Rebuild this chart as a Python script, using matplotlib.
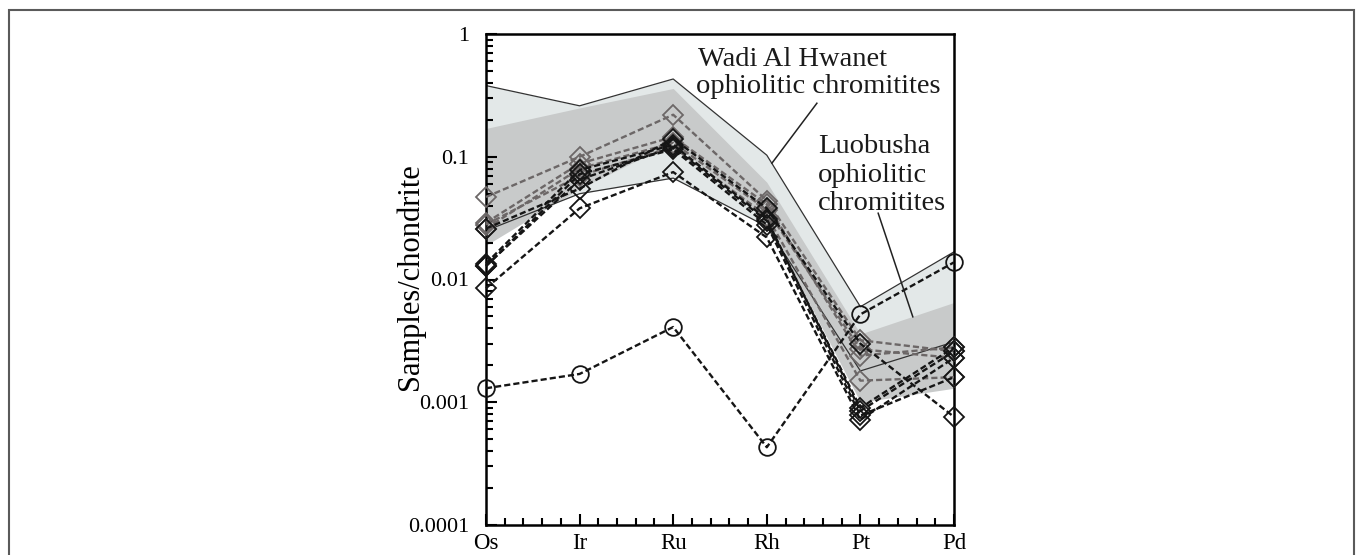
import matplotlib
matplotlib.use("Agg")
import matplotlib.pyplot as plt
from matplotlib.patches import Rectangle
from matplotlib.ticker import FixedLocator, NullFormatter, LogLocator, MultipleLocator

plt.rcParams['font.family'] = ['Liberation Serif', 'DejaVu Serif']

# PGE elements (chondrite-normalised)
elements = ["Os", "Ir", "Ru", "Rh", "Pt", "Pd"]

# Wadi Al Hwanet field (upper / lower envelope)
wadi_upper = [0.38, 0.26, 0.43, 0.103, 0.0060, 0.0168]
wadi_lower = [0.025, 0.050, 0.067, 0.027, 0.0018, 0.0031]

# Luobusha field (upper / lower envelope)
luob_upper = [0.17, 0.25, 0.36, 0.062, 0.0036, 0.0065]
luob_lower = [0.019, 0.055, 0.13, 0.030, 0.0010, 0.0013]

# sample with circle symbol
circle_sample = [0.0013, 0.0017, 0.0041, 0.00043, 0.0052, 0.0138]

# samples with diamond symbol, grey group
grey_samples = [
    [0.047, 0.100, 0.22, 0.044, 0.0032, 0.0026],
    [0.029, 0.088, 0.145, 0.041, 0.0024, 0.0028],
    [0.026, 0.080, 0.13, 0.037, 0.0027, 0.0023],
    [0.028, 0.070, 0.12, 0.033, 0.0015, 0.0016],
]

# samples with diamond symbol, black group
black_samples = [
    [0.026, 0.055, 0.14, 0.038, 0.0030, 0.00076],
    [0.0085, 0.038, 0.075, 0.022, 0.00072, 0.0023],
    [0.0135, 0.078, 0.125, 0.031, 0.00085, 0.0026],
    [0.0128, 0.072, 0.115, 0.028, 0.00078, 0.0016],
    [0.0130, 0.065, 0.120, 0.030, 0.00090, 0.0028],
]

y_ticks = [0.0001, 0.001, 0.01, 0.1, 1]
y_ticklabels = ["0.0001", "0.001", "0.01", "0.1", "1"]

W, H = 1357, 555
fig = plt.figure(figsize=(W / 100, H / 100), dpi=100)
ax_l, ax_r, ax_t, ax_b = 486, 954, 34, 525
ax = fig.add_axes([ax_l / W, 1 - ax_b / H, (ax_r - ax_l) / W, (ax_b - ax_t) / H])

x = list(range(len(elements)))

light = "#e3e8e8"
dark = "#c8caca"
grey = "#6c6767"
black = "#151515"

ax.fill_between(x, wadi_lower, wadi_upper, color=light, lw=0, zorder=1)
ax.fill_between(x, luob_lower, luob_upper, color=dark, lw=0, zorder=1.5)
ax.plot(x, wadi_upper, color="#333333", lw=0.9, zorder=2)
ax.plot(x, wadi_lower, color="#333333", lw=0.9, zorder=2)

dash = (0, (2.6, 1.3))
for s in grey_samples:
    ax.plot(x, s, color=grey, lw=1.7, ls=dash, marker="D", ms=10.5,
            mfc="none", mec=grey, mew=1.3, zorder=3, clip_on=False)
for s in black_samples:
    ax.plot(x, s, color=black, lw=1.7, ls=dash, marker="D", ms=10.5,
            mfc="none", mec=black, mew=1.3, zorder=3.2, clip_on=False)
ax.plot(x, circle_sample, color=black, lw=1.7, ls=dash, marker="o", ms=12,
        mfc="none", mec=black, mew=1.3, zorder=3.3, clip_on=False)

ax.set_yscale("log")
ax.set_ylim(0.0001, 1)
ax.set_xlim(0, 5)

ax.yaxis.set_major_locator(FixedLocator(y_ticks))
ax.set_yticklabels(y_ticklabels)
ax.yaxis.set_minor_locator(LogLocator(base=10, subs=range(2, 10)))
ax.yaxis.set_minor_formatter(NullFormatter())

ax.xaxis.set_major_locator(FixedLocator(x))
ax.set_xticklabels(elements)
ax.xaxis.set_minor_locator(MultipleLocator(0.2))

ax.tick_params(which="both", direction="in", top=False, right=False, width=1.5, colors="black")
ax.tick_params(which="major", length=8)
ax.tick_params(which="minor", length=5)
ax.tick_params(axis="y", which="major", labelsize=16, pad=12)
ax.tick_params(axis="x", which="major", labelsize=16.5, pad=6)

for sp in ax.spines.values():
    sp.set_linewidth(1.8)
    sp.set_color("black")
    sp.set_zorder(2.5)

ax.text(-0.162, 0.505, "Samples/chondrite", transform=ax.transAxes, rotation=90,
        ha="center", va="center", fontsize=22)

tc = "#1a1a1a"
fs = 20.5
ax.text(0.453, 0.935, "Wadi Al Hwanet", transform=ax.transAxes, fontsize=fs,
        ha="left", va="baseline", color=tc, zorder=6)
ax.text(0.449, 0.880, "ophiolitic chromitites", transform=ax.transAxes, fontsize=fs,
        ha="left", va="baseline", color=tc, zorder=6)
ax.plot([0.707, 0.611], [0.859, 0.737], transform=ax.transAxes, color="#222222", lw=1.1, zorder=6)

ax.text(0.709, 0.758, "Luobusha", transform=ax.transAxes, fontsize=fs,
        ha="left", va="baseline", color=tc, zorder=6)
ax.text(0.709, 0.699, "ophiolitic", transform=ax.transAxes, fontsize=fs,
        ha="left", va="baseline", color=tc, zorder=6)
ax.text(0.709, 0.642, "chromitites", transform=ax.transAxes, fontsize=fs,
        ha="left", va="baseline", color=tc, zorder=6)
ax.plot([0.838, 0.912], [0.635, 0.424], transform=ax.transAxes, color="#222222", lw=1.1, zorder=6)

# outer frame of the figure panel
fig.patches.append(Rectangle((9 / W, -0.2), (1354 - 9) / W, 1.2 - 10 / H,
                             transform=fig.transFigure, fill=False,
                             edgecolor="#5a5a5a", lw=1.5))

fig.savefig("out.png", dpi=100)
